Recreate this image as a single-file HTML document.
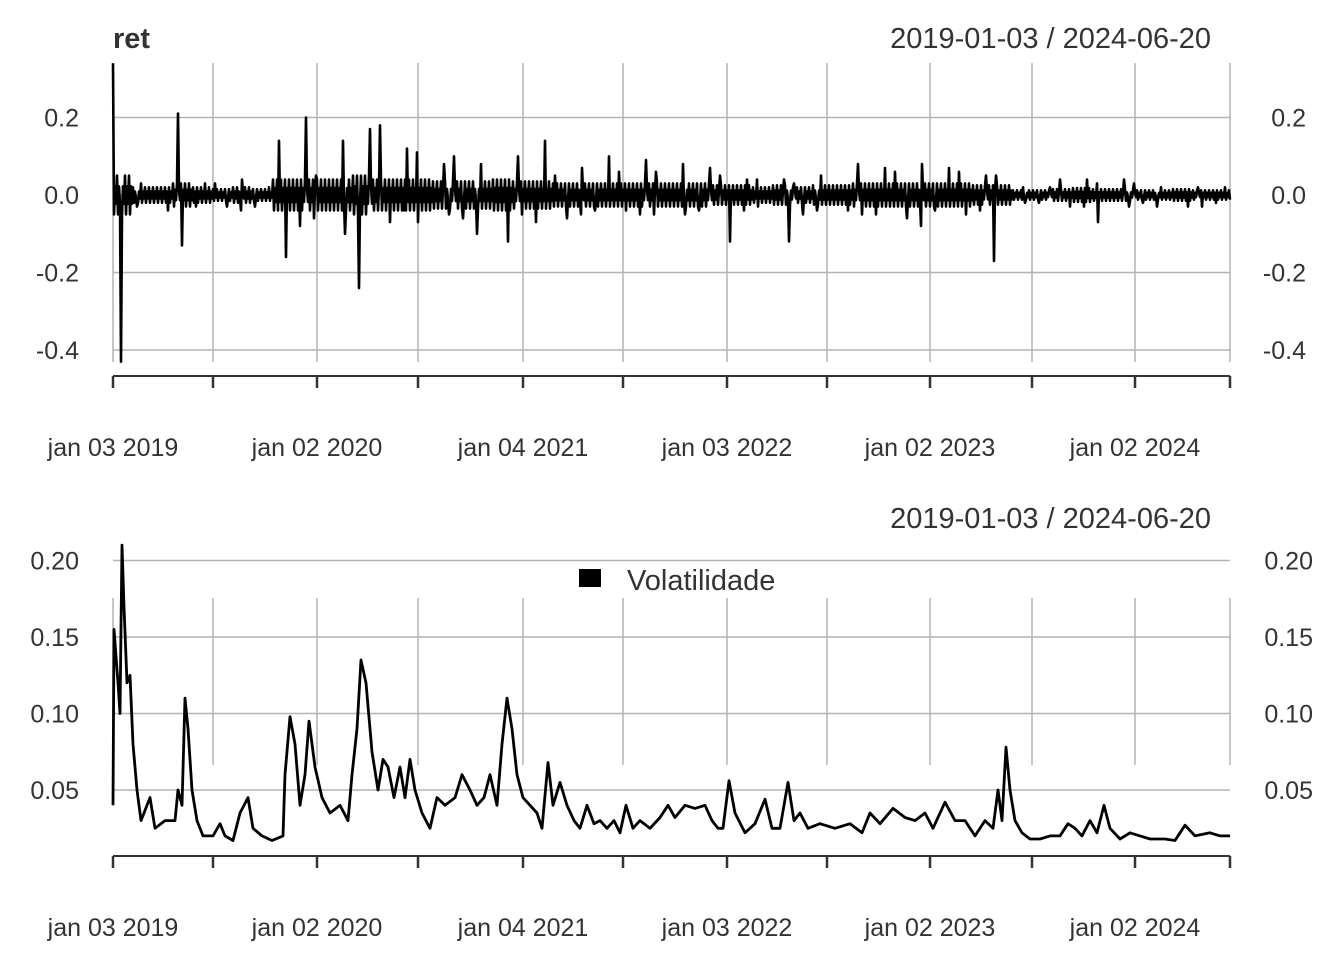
<!DOCTYPE html>
<html><head><meta charset="utf-8"><style>
body{margin:0;background:#fff;}
svg text{font-family:"Liberation Sans",sans-serif;fill:#333;}
</style></head><body>
<svg id="c" width="1344" height="960" viewBox="0 0 1344 960"></svg>
<script>
// ---- data ----
const xTickObs=[0,100,204,305,410,510,614,714,817,919,1022,1117];
const xLabelObs=[0,204,410,614,817,1022];
const xLabels=["jan 03 2019","jan 02 2020","jan 04 2021","jan 03 2022","jan 02 2023","jan 02 2024"];
const retTicks=[0.2,0.0,-0.2,-0.4];
const retTickLabels=["0.2","0.0","-0.2","-0.4"];
const volTicks=[0.20,0.15,0.10,0.05];
const volTickLabels=["0.20","0.15","0.10","0.05"];
// returns summarised per 20-observation bin
const retHi=[0.34,0.03,0.08,0.21,0.03,0.03,0.04,0.02,0.14,0.20,0.05,0.14,0.17,0.18,0.12,0.11,0.08,0.10,0.08,0.17,0.10,0.14,0.05,0.07,0.10,0.06,0.09,0.06,0.08,0.07,0.05,0.04,0.04,0.04,0.03,0.05,0.05,0.08,0.07,0.06,0.08,0.07,0.06,0.05,0.05,0.02,0.02,0.04,0.04,0.03,0.04,0.03,0.02,0.04,0.02,0.02];
const retLo=[-0.43,-0.03,-0.04,-0.13,-0.03,-0.03,-0.04,-0.03,-0.16,-0.08,-0.06,-0.10,-0.24,-0.07,-0.04,-0.07,-0.05,-0.06,-0.10,-0.12,-0.05,-0.07,-0.06,-0.05,-0.04,-0.04,-0.05,-0.05,-0.05,-0.04,-0.12,-0.04,-0.03,-0.12,-0.05,-0.04,-0.04,-0.05,-0.05,-0.06,-0.08,-0.04,-0.05,-0.04,-0.17,-0.02,-0.02,-0.03,-0.03,-0.07,-0.03,-0.02,-0.03,-0.03,-0.03,-0.02];
const retCore=[0.05,0.02,0.02,0.03,0.02,0.015,0.02,0.015,0.04,0.04,0.04,0.04,0.05,0.04,0.04,0.04,0.035,0.035,0.035,0.04,0.035,0.035,0.03,0.03,0.03,0.03,0.03,0.03,0.03,0.03,0.025,0.025,0.02,0.025,0.02,0.025,0.025,0.03,0.03,0.03,0.03,0.03,0.03,0.025,0.025,0.012,0.012,0.015,0.018,0.015,0.015,0.012,0.012,0.015,0.012,0.012];
// volatility (observation index, value)
const volObs=[0,1,5,7,9,11,14,17,20,24,28,37,42,52,62,65,69,72,75,79,84,90,100,107,112,120,127,135,140,149,159,170,172,177,182,187,192,196,202,209,217,227,235,239,244,248,253,259,265,270,275,281,287,292,297,302,309,317,324,332,342,349,357,364,371,377,384,389,394,399,404,410,417,424,429,435,440,447,454,461,467,474,481,487,494,501,507,513,520,527,537,547,555,562,572,582,592,599,605,610,616,622,632,642,652,659,667,675,681,687,695,707,722,737,749,757,767,780,792,802,812,820,832,842,852,862,872,880,885,889,893,897,902,909,917,927,937,947,955,962,969,977,984,991,997,1007,1017,1027,1037,1052,1062,1072,1082,1097,1107,1117];
const volVal=[0.04,0.155,0.12,0.10,0.21,0.17,0.12,0.125,0.08,0.05,0.03,0.045,0.025,0.03,0.03,0.05,0.04,0.11,0.09,0.05,0.03,0.02,0.02,0.028,0.02,0.017,0.035,0.045,0.025,0.02,0.017,0.02,0.06,0.098,0.08,0.04,0.06,0.095,0.065,0.045,0.035,0.04,0.03,0.06,0.09,0.135,0.12,0.075,0.05,0.07,0.065,0.045,0.065,0.045,0.07,0.05,0.035,0.025,0.045,0.04,0.045,0.06,0.05,0.04,0.045,0.06,0.04,0.08,0.11,0.09,0.06,0.045,0.04,0.035,0.025,0.068,0.04,0.055,0.04,0.03,0.025,0.04,0.028,0.03,0.025,0.03,0.022,0.04,0.025,0.03,0.025,0.032,0.04,0.032,0.04,0.038,0.04,0.03,0.025,0.025,0.056,0.035,0.022,0.028,0.044,0.025,0.025,0.055,0.03,0.035,0.025,0.028,0.025,0.028,0.022,0.035,0.028,0.038,0.032,0.03,0.035,0.025,0.042,0.03,0.03,0.02,0.03,0.025,0.05,0.03,0.078,0.05,0.03,0.022,0.018,0.018,0.02,0.02,0.028,0.025,0.02,0.03,0.022,0.04,0.025,0.018,0.022,0.02,0.018,0.018,0.017,0.027,0.02,0.022,0.02,0.02];

const NS="http://www.w3.org/2000/svg";
const svg=document.getElementById('c');
function mk(t,a,parent){const e=document.createElementNS(NS,t);for(const k in a)e.setAttribute(k,a[k]);(parent||svg).appendChild(e);return e;}
const X=o=>113+o*(1117/1117);
const Yr=v=>195-v*387.5;
const Yv=v=>790-(v-0.05)*1530;

// ---------- top panel ----------
let t=mk('text',{x:113,y:48,'font-size':29,'font-weight':'bold'});t.textContent='ret';


t=mk('text',{x:1211,y:48,'font-size':29,'text-anchor':'end'});t.textContent='2019-01-03 / 2024-06-20';


xTickObs.forEach(o=>{const l=mk('line',{x1:X(o),x2:X(o),y1:63,y2:362,stroke:'#b3b3b3','stroke-width':1.5});

});
retTicks.forEach((v,i)=>{const l=mk('line',{x1:113,x2:1230,y1:Yr(v),y2:Yr(v),stroke:'#b3b3b3','stroke-width':1.5});


let a=mk('text',{x:79,y:Yr(v)+9,'font-size':25,'text-anchor':'end'});a.textContent=retTickLabels[i];


a=mk('text',{x:1306,y:Yr(v)+9,'font-size':25,'text-anchor':'end'});a.textContent=retTickLabels[i];

});
// returns series
let pts=[];
retHi.forEach((h,i)=>{const b=i*20;
 const hp=i===0?0:(i*7)%17+1, lp=i===0?8:(i*11+9)%17+1;
 for(let k=0;k<20;k++){const o=b+k;if(o>1117)break;
  let c=retCore[i]*((k%4<2)?1:0.45);
  let v=k%2?-c:c;
  if(k===hp)v=h; if(k===lp)v=retLo[i];
  pts.push(X(o).toFixed(1)+','+Yr(v).toFixed(1));}
});
let p=mk('polyline',{points:pts.join(' '),fill:'none',stroke:'#000','stroke-width':2.6,'stroke-linejoin':'round'});


function xaxis(y,ly,pref){
 const l=mk('line',{x1:113,x2:1230,y1:y,y2:y,stroke:'#333','stroke-width':2});
 
 
 xTickObs.forEach(o=>{const k=mk('line',{x1:X(o),x2:X(o),y1:y,y2:y+12,stroke:'#333','stroke-width':2.5});
 
 });
 xLabelObs.forEach((o,i)=>{const a=mk('text',{x:X(o),y:ly,'font-size':25,'text-anchor':'middle'});a.textContent=xLabels[i];
 
 });
}
xaxis(376,456,'top');

// ---------- bottom panel ----------
t=mk('text',{x:1211,y:528,'font-size':29,'text-anchor':'end'});t.textContent='2019-01-03 / 2024-06-20';


xTickObs.forEach(o=>{const l=mk('line',{x1:X(o),x2:X(o),y1:598,y2:765,stroke:'#b3b3b3','stroke-width':1.5});

});
volTicks.forEach((v,i)=>{const l=mk('line',{x1:113,x2:1230,y1:Yv(v),y2:Yv(v),stroke:'#b3b3b3','stroke-width':1.5});


let a=mk('text',{x:79,y:Yv(v)+9,'font-size':25,'text-anchor':'end'});a.textContent=volTickLabels[i];


a=mk('text',{x:1313,y:Yv(v)+9,'font-size':25,'text-anchor':'end'});a.textContent=volTickLabels[i];

});
const vp=volObs.map((o,i)=>X(o).toFixed(1)+','+Yv(volVal[i]).toFixed(1)).join(' ');
p=mk('polyline',{points:vp,fill:'none',stroke:'#000','stroke-width':2.8,'stroke-linejoin':'round'});


let r=mk('rect',{x:579,y:569,width:22,height:18,fill:'#000'});


t=mk('text',{x:627,y:590,'font-size':29,fill:'#000'});t.textContent='Volatilidade';


xaxis(856,936,'bottom');
</script>
</body></html>
